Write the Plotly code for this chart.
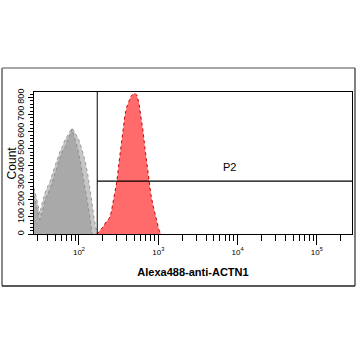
import plotly.graph_objects as go

# ---- data (fluorescence intensity vs. count) ----
iso_dark_x = [27, 28.5, 29.5, 31, 32.2, 33.5, 35.2, 37.2, 40.6, 43.1, 47.0, 49.8, 54.3, 57.5, 62.8,
              66.5, 72.6, 77.1, 81.7, 86.5, 91.6, 97.1, 103, 112, 119, 130, 138, 146]
iso_dark_y = [228, 190, 152, 110, 82, 118, 141, 199, 234, 262, 316, 352, 416, 447, 492,
              506, 557, 580, 615, 574, 539, 492, 434, 346, 270, 170, 94, 0]

iso_light_x = [27, 28.5, 29.5, 31, 32.2, 33.5, 35.2, 37.2, 40.6, 43.1, 47.0, 49.8, 54.3, 57.5, 62.8,
               66.5, 72.6, 77.1, 81.7, 86.5, 91.6, 97.1, 103, 112, 119, 130, 138, 146, 155, 164, 169]
iso_light_y = [270, 235, 199, 150, 117, 160, 199, 240, 281, 306, 363, 398, 451, 482, 521,
               551, 580, 603, 621, 603, 586, 562, 533, 480, 434, 340, 270, 182, 94, 35, 0]

actn1_x = [169, 184, 201, 219, 239, 254, 269, 284, 301, 319, 339, 359, 380, 403, 428, 453, 480,
           508, 538, 571, 605, 641, 679, 721, 764, 809, 857, 908, 964, 1021, 1081]
actn1_y = [0, 18, 41, 70, 88, 123, 181, 240, 310, 415, 520, 620, 696, 749, 784, 807, 819,
           825, 813, 766, 684, 608, 503, 404, 310, 228, 170, 123, 70, 23, 0]

gate_low = 170        # P2 gate lower bound (intensity)
gate_count = 310      # P2 gate bar height (count)
gate_name = "P2"

x_tickvals = [100, 1000, 10000, 100000]
x_ticktext = ["10<sup>2</sup>", "10<sup>3</sup>", "10<sup>4</sup>", "10<sup>5</sup>"]
y_tickvals = [0, 100, 200, 300, 400, 500, 600, 700, 800]
y_ticktext = [str(v) for v in y_tickvals]

x_minor = [m * 10 ** e for e in range(1, 6) for m in range(2, 10) if 27 <= m * 10 ** e <= 277000]

fig = go.Figure()
fig.add_trace(go.Scatter(x=iso_light_x, y=iso_light_y, mode="lines", fill="tozeroy",
                         fillcolor="#c6c6c6", line=dict(color="#9a9a9a", width=1, dash="dot"),
                         hoverinfo="skip"))
fig.add_trace(go.Scatter(x=iso_dark_x, y=iso_dark_y, mode="lines", fill="tozeroy",
                         fillcolor="#a9a9a9", line=dict(color="#8c8c8c", width=1, dash="dot"),
                         hoverinfo="skip"))
fig.add_trace(go.Scatter(x=actn1_x, y=actn1_y, mode="lines", fill="tozeroy",
                         fillcolor="#ff6a6a", line=dict(color="#c80000", width=1, dash="dot"),
                         hoverinfo="skip"))

# gate
fig.add_shape(type="line", xref="x", yref="paper", x0=gate_low, x1=gate_low, y0=0, y1=1,
              line=dict(color="black", width=1))
fig.add_shape(type="line", xref="x", yref="y", x0=gate_low, x1=280000, y0=gate_count, y1=gate_count,
              line=dict(color="black", width=1.2))
fig.add_annotation(x=3.9, y=gate_count + 85, xref="x", yref="y", text=gate_name, showarrow=False,
                   font=dict(family="Liberation Sans Narrow, Arial", size=11, color="black"))

# y axis title as annotation
fig.add_annotation(x=-0.068, y=0.5, xref="paper", yref="paper", text="Count", textangle=-90,
                   showarrow=False, xanchor="center", yanchor="middle",
                   font=dict(size=12, color="black"))

# outer frame (paper coords relative to plot area)
L, R, T, B = -0.1006, 1.0094, 1.169, -0.366
fig.add_shape(type="line", xref="paper", yref="paper", x0=L, x1=L, y0=B, y1=T,
              line=dict(color="#8a8a8a", width=2))
fig.add_shape(type="line", xref="paper", yref="paper", x0=L, x1=R, y0=T, y1=T,
              line=dict(color="#8a8a8a", width=1.5))
fig.add_shape(type="line", xref="paper", yref="paper", x0=R, x1=R, y0=B, y1=T,
              line=dict(color="#555555", width=1.5))
fig.add_shape(type="line", xref="paper", yref="paper", x0=L, x1=R, y0=B, y1=B,
              line=dict(color="#222222", width=1.5))

fig.update_layout(
    width=359, height=360,
    margin=dict(l=34, r=7, t=92, b=126, autoexpand=False),
    paper_bgcolor="white", plot_bgcolor="white",
    showlegend=False,
    font=dict(family="Arial, Liberation Sans, sans-serif", color="black"),
)
fig.update_xaxes(
    type="log", range=[1.433, 5.443], automargin=False,
    tickvals=x_tickvals, ticktext=x_ticktext,
    ticks="outside", ticklen=10, tickwidth=1, tickcolor="black",
    tickfont=dict(size=8, family="Liberation Sans Narrow, Arial"),
    minor=dict(tickvals=x_minor, ticks="outside", ticklen=6, tickcolor="black", tickwidth=1),
    showline=True, linecolor="black", linewidth=1, mirror=True,
    showgrid=False, zeroline=False,
    title=dict(text="<b>Alexa488-anti-ACTN1</b>", font=dict(size=11), standoff=12),
)
fig.update_yaxes(
    range=[0, 832], automargin=False,
    tickvals=y_tickvals, ticktext=y_ticktext, tickangle=-90,
    ticks="outside", ticklen=5, tickwidth=1, tickcolor="black",
    tickfont=dict(size=9),
    minor=dict(dtick=20, ticks="outside", ticklen=3, tickcolor="black", tickwidth=1),
    showline=True, linecolor="black", linewidth=1, mirror=True,
    showgrid=False, zeroline=False,
)

fig.write_html("out.html", config={"displayModeBar": False},
               post_script="document.body.style.margin='0';document.body.style.overflow='hidden';")
